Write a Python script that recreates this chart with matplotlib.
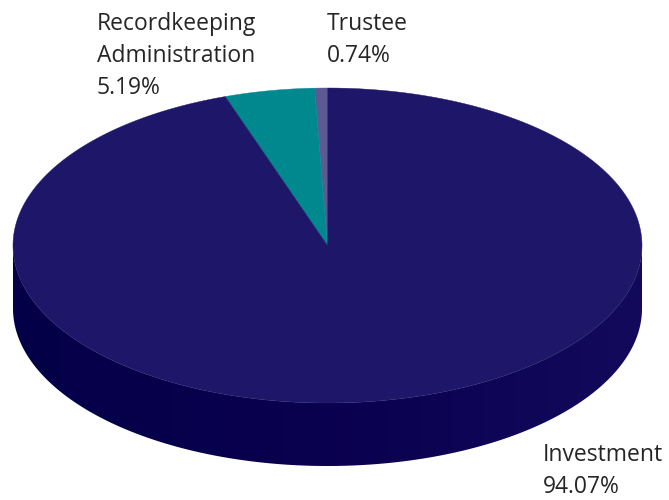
import numpy as np
import matplotlib.pyplot as plt
from matplotlib.patches import Polygon
from matplotlib.colors import LinearSegmentedColormap

categories = ['Trustee', 'Recordkeeping\nAdministration', 'Investment']
shares = [0.74, 5.19, 94.07]
colors = ['#5b5a92', '#00888f', '#1e1769']
side_dark = ['#34326a', '#005a60', '#040048']
side_light = ['#44427a', '#00707a', '#140a5c']

# ellipse geometry (pixel units)
cx, cy = 327.5, 245.5
rx, ry = 314.5, 157.5
depth = 63
foreshorten = 0.88   # tilt makes slices near the back look narrower

fig = plt.figure(figsize=(6.69, 5.0), dpi=100)
ax = fig.add_axes([0, 0, 1, 1])
ax.set_xlim(0, 669)
ax.set_ylim(500, 0)
ax.axis('off')

fracs = np.array(shares) / sum(shares)
starts = 90 + 360 * np.concatenate([[0], np.cumsum(fracs)[:-1]])
ends = starts + 360 * fracs


def pt(theta_deg, dy=0):
    t = np.radians(theta_deg)
    psi = np.unwrap(np.atleast_1d(np.arctan2(np.sin(t), foreshorten * np.cos(t))))
    return cx + rx * np.cos(psi), cy - ry * np.sin(psi) + dy


# side walls: only the front half (180..360 degrees) is visible
for s, e, dk, lt in zip(starts, ends, side_dark, side_light):
    for off in (0, 360):
        a0, a1 = max(s, 180 + off), min(e, 360 + off)
        if a1 <= a0:
            continue
        th = np.linspace(a0, a1, 400)
        xt, yt = pt(th)
        xb, yb = pt(th[::-1], depth)
        poly = Polygon(np.c_[np.r_[xt, xb], np.r_[yt, yb]], closed=True,
                       fc='none', ec='none')
        ax.add_patch(poly)
        cmap = LinearSegmentedColormap.from_list('side', [dk, '#0a004f', lt])
        grad = np.linspace(0, 1, 256)[None, :]
        im = ax.imshow(grad, cmap=cmap, aspect='auto',
                       extent=(cx - rx, cx + rx, cy + ry + depth + 2, cy - 2),
                       interpolation='bilinear', zorder=1)
        im.set_clip_path(poly)

# top face
for s, e, c in zip(starts, ends, colors):
    th = np.linspace(s, e, max(int((e - s) * 3), 6))
    xs, ys = pt(th)
    ax.fill(np.r_[cx, xs], np.r_[cy, ys], color=c, lw=0.3, ec=c, zorder=2)

ax.set_xlim(0, 669)
ax.set_ylim(500, 0)

# labels
font = dict(family='Open Sans', fontsize=16.5, color='#262626', va='top',
            linespacing=1.45, zorder=3)
ax.text(97, 12, f'{categories[1]}\n{shares[1]:.2f}%', ha='left', **font)
ax.text(327, 12, f'{categories[0]}\n{shares[0]:.2f}%', ha='left', **font)
ax.text(543, 443, f'{categories[2]}\n{shares[2]:.2f}%', ha='left', **font)

fig.savefig('out.png', dpi=100)
